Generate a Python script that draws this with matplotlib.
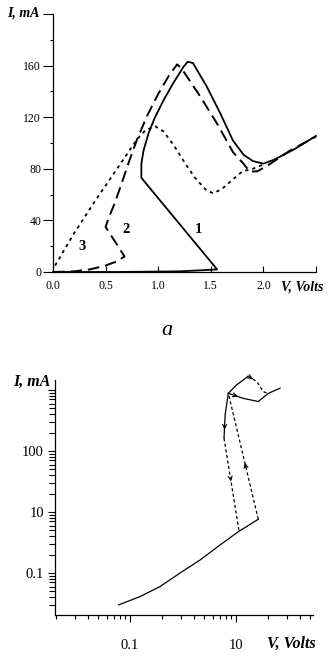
import numpy as np
import matplotlib.pyplot as plt
from matplotlib.ticker import FixedLocator, FixedFormatter, LogLocator, NullFormatter

# ---- panel a : linear I-V curves ----
v1 = [0.0, 0.60, 1.20, 1.40, 1.56, 0.84, 0.84, 0.86, 0.91, 0.97, 1.05, 1.14, 1.24, 1.28,
      1.33, 1.46, 1.59, 1.71, 1.81, 1.90, 2.00, 2.10, 2.29, 2.50]
i1 = [0.0, 0.0, 0.5, 1.3, 2.0, 73, 84, 94, 108, 120, 133, 146, 159, 163,
      162, 144, 123, 102, 91, 86, 84, 87, 95, 105.5]

v2 = [0.0, 0.20, 0.35, 0.50, 0.60, 0.68, 0.50, 0.53, 0.58, 0.65, 0.72, 0.80, 0.90,
      1.00, 1.10, 1.18, 1.22, 1.40, 1.56, 1.71, 1.81, 1.87, 1.94, 2.03, 2.25, 2.50]
i2 = [0.0, 0.5, 2.0, 5.0, 8.0, 12, 35, 42, 52, 68, 85, 103, 122,
      138, 152, 161, 158, 136, 115, 93, 84, 78, 78, 82, 94, 105]

v3 = [0.02, 0.20, 0.40, 0.60, 0.80, 0.88, 0.97, 1.05, 1.15, 1.25, 1.35, 1.45, 1.52,
      1.60, 1.70, 1.80, 1.90, 2.02]
i3 = [5, 30, 55, 79, 103, 110, 113, 109, 98, 85, 73, 64, 61,
      64, 71, 78, 80, 84]

a_xticks = [0.0, 0.5, 1.0, 1.5, 2.0, 2.5]
a_xlabels = ['0.0', '0.5', '1.0', '1.5', '2.0', '']
a_yticks = [0, 40, 80, 120, 160, 200]
a_ylabels = ['0', '40', '80', '120', '160', '']
curve_tags = ['1', '2', '3']
tag_pos = [(1.38, 33), (0.69, 33), (0.28, 20)]

# ---- panel b : log-log I-V loop ----
vb_low = [0.78, 1.24, 1.92, 2.96, 4.57, 7.06, 10.5, 16.2]
ib_low = [0.30, 0.41, 0.60, 1.0, 1.63, 2.88, 4.75, 7.6]
vb_up = [16.2, 8.46]          # dashed switching branch (up)
ib_up = [7.6, 883]
vb_left = [8.46, 7.9, 7.7]     # solid part of the return branch
ib_left = [883, 400, 162]
vb_down = [7.7, 10.7]         # dashed return branch (down)
ib_down = [162, 4.75]
vb_top = [8.46, 10.1, 12.2, 13.0]
ib_top = [883, 1210, 1540, 1690]
vb_topd = [13.0, 15.7, 18.1, 20.2]
ib_topd = [1690, 1370, 937, 883]
vb_bot = [8.46, 11.7, 16.2, 20.2, 26.0]
ib_bot = [883, 730, 647, 883, 1070]

b_xticks = [1, 10]
b_xlabels = ['0.1', '10']
b_yticks = [1, 10, 100, 1000]
b_ylabels = ['0.1', '10', '100', '']

W, H = 334, 660
fig = plt.figure(figsize=(W / 100, H / 100), dpi=100)
serif = 'Liberation Serif'


def fx(x):
    return x / W


def fy(y):
    return 1 - y / H


# panel a
ax1 = fig.add_axes([fx(53), fy(272), (316 - 53) / W, (272 - 14) / H])
ax1.set_xlim(0, 2.5)
ax1.set_ylim(0, 200)
for s in ['top', 'right']:
    ax1.spines[s].set_visible(False)
for s in ['left', 'bottom']:
    ax1.spines[s].set_linewidth(0.9)

ax1.plot(v1, i1, color='k', lw=1.3, clip_on=False)
ax1.plot(v2, i2, color='k', lw=1.4, dashes=(6, 3), clip_on=False)
ax1.plot(v3, i3, color='k', lw=1.3, dashes=(1.8, 2.2), clip_on=False)
for tag, (tx, ty) in zip(curve_tags, tag_pos):
    ax1.text(tx, ty, tag, fontsize=10.5, fontweight='bold', family=serif,
             ha='center', va='center')

ax1.xaxis.set_major_locator(FixedLocator(a_xticks))
ax1.xaxis.set_major_formatter(FixedFormatter(a_xlabels))
ax1.yaxis.set_major_locator(FixedLocator(a_yticks))
ax1.yaxis.set_major_formatter(FixedFormatter(a_ylabels))
ax1.yaxis.set_minor_locator(FixedLocator([20, 60, 100, 140, 180]))
ax1.tick_params(axis='x', direction='in', length=4, width=0.8, pad=6, labelsize=8.5)
ax1.tick_params(axis='y', which='major', direction='out', length=7, width=0.8,
                pad=1.5, labelsize=8.5)
ax1.tick_params(axis='y', which='minor', direction='out', length=2.5, width=0.8)
for lab in ax1.get_xticklabels() + ax1.get_yticklabels():
    lab.set_family(serif)

fig.text(fx(23), fy(13), 'I, mA', fontsize=10, fontweight='bold', style='italic',
         family=serif, ha='center', va='center')
fig.text(fx(302), fy(287), 'V, Volts', fontsize=10, fontweight='bold', style='italic',
         family=serif, ha='center', va='center')
fig.text(fx(167), fy(331), 'a', fontsize=16, style='italic', family=serif,
         ha='center', va='center')

# panel b
ax2 = fig.add_axes([fx(55), fy(615), 258 / W, 235 / H])
ax2.set_xscale('log')
ax2.set_yscale('log')
ax2.set_xlim(0.196, 53.2)
ax2.set_ylim(0.205, 1459)
for s in ['top', 'right']:
    ax2.spines[s].set_visible(False)
for s in ['left', 'bottom']:
    ax2.spines[s].set_linewidth(0.9)

lw = 0.9
ax2.plot(vb_low, ib_low, color='k', lw=lw, clip_on=False)
ax2.plot(vb_up, ib_up, color='k', lw=lw, dashes=(2.5, 2), clip_on=False)
ax2.plot(vb_left, ib_left, color='k', lw=lw, clip_on=False)
ax2.plot(vb_down, ib_down, color='k', lw=lw, dashes=(2.5, 2), clip_on=False)
ax2.plot(vb_top, ib_top, color='k', lw=lw, clip_on=False)
ax2.plot(vb_topd, ib_topd, color='k', lw=lw, dashes=(2.5, 2), clip_on=False)
ax2.plot(vb_bot, ib_bot, color='k', lw=lw, clip_on=False)


def arrow_on(vs, cs, k, frac=0.5):
    # small arrow head in the middle of segment k, pointing along the path
    lv = np.log10(vs)
    lc = np.log10(cs)
    d = 0.04
    x0 = 10 ** (lv[k] + (lv[k + 1] - lv[k]) * (frac - d))
    y0 = 10 ** (lc[k] + (lc[k + 1] - lc[k]) * (frac - d))
    x1 = 10 ** (lv[k] + (lv[k + 1] - lv[k]) * (frac + d))
    y1 = 10 ** (lc[k] + (lc[k + 1] - lc[k]) * (frac + d))
    ax2.annotate('', xy=(x1, y1), xytext=(x0, y0), annotation_clip=False,
                 arrowprops=dict(arrowstyle='->', lw=0.8, color='k',
                                 mutation_scale=7))


arrow_on(vb_up, ib_up, 0, 0.43)
arrow_on(vb_down, ib_down, 0, 0.45)
arrow_on(vb_left, ib_left, 1, 0.6)
arrow_on(vb_bot, ib_bot, 0, 0.6)
arrow_on(vb_topd, ib_topd, 0, 0.5)

ax2.xaxis.set_major_locator(FixedLocator(b_xticks))
ax2.xaxis.set_major_formatter(FixedFormatter(b_xlabels))
ax2.xaxis.set_minor_locator(LogLocator(base=10, subs=np.arange(2, 10)))
ax2.xaxis.set_minor_formatter(NullFormatter())
ax2.yaxis.set_major_locator(FixedLocator(b_yticks))
ax2.yaxis.set_major_formatter(FixedFormatter(b_ylabels))
ax2.yaxis.set_minor_locator(LogLocator(base=10, subs=np.arange(2, 10)))
ax2.yaxis.set_minor_formatter(NullFormatter())
ax2.tick_params(axis='x', which='major', direction='out', length=5, width=0.8,
                pad=12, labelsize=10.5)
ax2.tick_params(axis='x', which='minor', direction='out', length=3, width=0.8)
ax2.tick_params(axis='y', which='major', direction='out', length=5, width=0.8,
                pad=3, labelsize=10.5)
ax2.tick_params(axis='y', which='minor', direction='out', length=4, width=0.8)
for lab in ax2.get_xticklabels() + ax2.get_yticklabels():
    lab.set_family(serif)

fig.text(fx(32), fy(382), 'I, mA', fontsize=11.5, fontweight='bold', style='italic',
         family=serif, ha='center', va='center')
fig.text(fx(291), fy(644), 'V, Volts', fontsize=11.5, fontweight='bold', style='italic',
         family=serif, ha='center', va='center')

fig.savefig('out.png', dpi=100)
